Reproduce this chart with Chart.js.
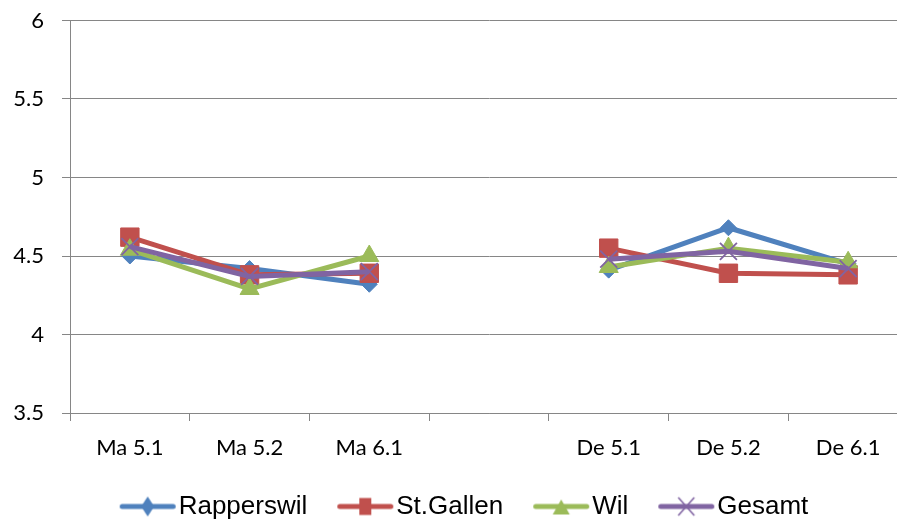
<!DOCTYPE html>
<html>
<head>
<meta charset="utf-8">
<script src="https://cdn.jsdelivr.net/npm/chart.js@4/dist/chart.umd.min.js"></script>
<style>
  html, body { margin: 0; padding: 0; background: #fff; overflow: hidden; }
  #wrap { width: 940px; height: 530px; }
</style>
</head>
<body>
<div id="wrap"><canvas id="chart" width="940" height="530"></canvas></div>
<script>
// Categories (the empty slot separates the two groups)
const categories = ['Ma 5.1', 'Ma 5.2', 'Ma 6.1', '', 'De 5.1', 'De 5.2', 'De 6.1'];

// Series values
const rapperswil = [4.50, 4.42, 4.32, null, 4.41, 4.68, 4.45];
const stGallen   = [4.62, 4.38, 4.39, null, 4.55, 4.39, 4.38];
const wil        = [4.54, 4.29, 4.50, null, 4.43, 4.55, 4.46];
const gesamt     = [4.56, 4.37, 4.40, null, 4.48, 4.53, 4.42];

// Value axis ticks
const yTicks = [3.5, 4, 4.5, 5, 5.5, 6];

const seriesNames = ['Rapperswil', 'St.Gallen', 'Wil', 'Gesamt'];
const seriesData = [rapperswil, stGallen, wil, gesamt];
const colors = ['#4F81BD', '#C0504D', '#9BBB59', '#8064A2'];
const markerStyles = ['rectRot', 'rect', 'triangle', 'crossRot'];
const markerRadius = [8, 13, 11, 12];

// Legend symbol: a short line with the series marker on it
function legendSymbol(i) {
  const c = document.createElement('canvas');
  c.width = 88; c.height = 26;
  const g = c.getContext('2d');
  const col = colors[i];
  const cy = 13, cx = 59;
  g.strokeStyle = col; g.fillStyle = col;
  g.lineWidth = 5; g.lineCap = 'round';
  g.beginPath(); g.moveTo(33.5, cy); g.lineTo(84.5, cy); g.stroke();
  g.beginPath();
  if (i === 0) {
    g.moveTo(cx, cy - 10); g.lineTo(cx + 6.5, cy); g.lineTo(cx, cy + 10); g.lineTo(cx - 6.5, cy);
    g.closePath(); g.fill();
  } else if (i === 1) {
    g.rect(cx - 6, cy - 8.5, 12, 17); g.fill();
  } else if (i === 2) {
    g.moveTo(cx, cy - 7); g.lineTo(cx + 8.5, cy + 8); g.lineTo(cx - 8.5, cy + 8);
    g.closePath(); g.fill();
  } else {
    g.lineWidth = 1.6; g.lineCap = 'butt';
    g.moveTo(cx - 8, cy - 9); g.lineTo(cx + 8, cy + 9);
    g.moveTo(cx + 8, cy - 9); g.lineTo(cx - 8, cy + 9);
    g.stroke();
  }
  return c;
}

const datasets = seriesData.map((vals, i) => ({
  label: seriesNames[i],
  data: vals,
  borderColor: colors[i],
  backgroundColor: colors[i],
  borderWidth: 5,
  pointStyle: markerStyles[i],
  pointRadius: markerRadius[i],
  pointBorderWidth: i === 3 ? 1.8 : 1,
  pointBackgroundColor: colors[i],
  pointBorderColor: colors[i],
  tension: 0,
  spanGaps: false,
  order: seriesNames.length - i
}));

const gridGray = '#868686';

new Chart(document.getElementById('chart'), {
  type: 'line',
  data: { labels: categories, datasets },
  options: {
    responsive: false,
    devicePixelRatio: 1,
    animation: false,
    events: [],
    layout: { padding: { top: 20.5, left: 0, right: 32, bottom: 0.5 } },
    scales: {
      x: {
        type: 'category',
        offset: true,
        grid: {
          offset: true,
          drawOnChartArea: false,
          drawTicks: true,
          tickLength: 8,
          color: gridGray
        },
        border: { color: gridGray, width: 1 },
        ticks: {
          autoSkip: false,
          maxRotation: 0,
          minRotation: 0,
          padding: 14,
          color: '#000',
          font: { family: 'Lato', size: 22 }
        },
        afterFit(scale) { scale.height = 70.5; }
      },
      y: {
        min: yTicks[0],
        max: yTicks[yTicks.length - 1],
        afterBuildTicks(scale) { scale.ticks = yTicks.map(v => ({ value: v })); },
        grid: { color: gridGray, tickLength: 8, drawTicks: true },
        border: { color: gridGray, width: 1 },
        ticks: {
          padding: 18,
          color: '#000',
          font: { family: 'Lato', size: 22 },
          callback: (v) => String(v)
        },
        afterFit(scale) {
          scale.width = 70;
          scale.paddingTop = 0;
          scale.paddingBottom = 0;
        }
      }
    },
    plugins: {
      tooltip: { enabled: false },
      title: { display: false },
      legend: {
        position: 'bottom',
        align: 'center',
        labels: {
          usePointStyle: true,
          pointStyleWidth: 66,
          padding: 10,
          color: '#000',
          font: { family: 'Liberation Sans', size: 26 },
          generateLabels: () => seriesNames.map((name, i) => ({
            text: name,
            pointStyle: legendSymbol(i),
            fillStyle: colors[i],
            strokeStyle: colors[i],
            lineWidth: 0,
            hidden: false,
            datasetIndex: i,
            fontColor: '#000'
          }))
        }
      }
    }
  }
});
</script>
</body>
</html>
